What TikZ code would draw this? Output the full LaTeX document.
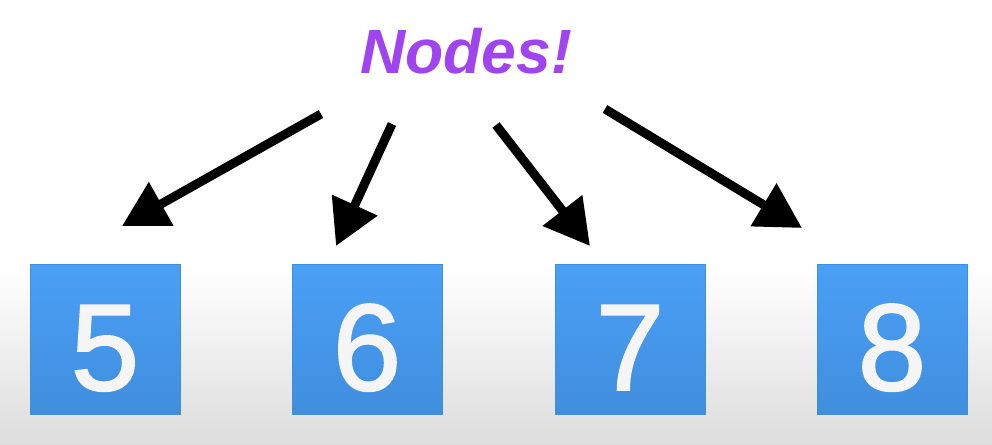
\documentclass[tikz,border=0pt]{standalone}
\usepackage{fontspec}
\setmainfont{Liberation Sans}
\newfontfamily\digitfont[FakeBold=1.6]{Liberation Sans}
\usetikzlibrary{arrows.meta}
\definecolor{titlepurple}{RGB}{160,68,240}
\definecolor{boxtop}{RGB}{74,160,246}
\definecolor{boxbottom}{RGB}{64,142,222}
\definecolor{digitwhite}{RGB}{245,245,245}
\definecolor{floorgray}{RGB}{221,221,221}
\tikzset{
	numbox/.style={minimum size=150pt,inner sep=0pt,top color=boxtop,bottom color=boxbottom,draw=boxbottom,line width=0.8pt,
		text=digitwhite,text height=102pt,text depth=0pt,font=\digitfont\fontsize{123}{130}\selectfont},
	pointer/.style={line width=9pt,-{Triangle[length=45pt,width=48pt]}}
}
\begin{document}
\begin{tikzpicture}[x=1pt,y=-1pt]
		\useasboundingbox (0,0) rectangle (992,444);
		%背景
		\shade[top color=white,bottom color=floorgray] (0,265) rectangle (992,444);
		%标题
		\node[text=titlepurple,inner sep=0pt,font=\fontsize{62.5}{70}\selectfont\bfseries\itshape] (title) at (466,51) {Nodes!};
		%节点
		\node[numbox] (n-5) at (105,339) {5};
		\node[numbox] (n-6) at (367,339) {6};
		\node[numbox] (n-7) at (630,339) {7};
		\node[numbox] (n-8) at (892,339) {8};
		%箭头
		\coordinate (s-5) at (321,114); \coordinate (t-5) at (122,226);
		\coordinate (s-6) at (392,124); \coordinate (t-6) at (336,246);
		\coordinate (s-7) at (496,125); \coordinate (t-7) at (590,246);
		\coordinate (s-8) at (605,109); \coordinate (t-8) at (802,228);
		\draw[pointer] (s-5) -- (t-5);
		\draw[pointer] (s-6) -- (t-6);
		\draw[pointer] (s-7) -- (t-7);
		\draw[pointer] (s-8) -- (t-8);
	\end{tikzpicture}
\end{document}
